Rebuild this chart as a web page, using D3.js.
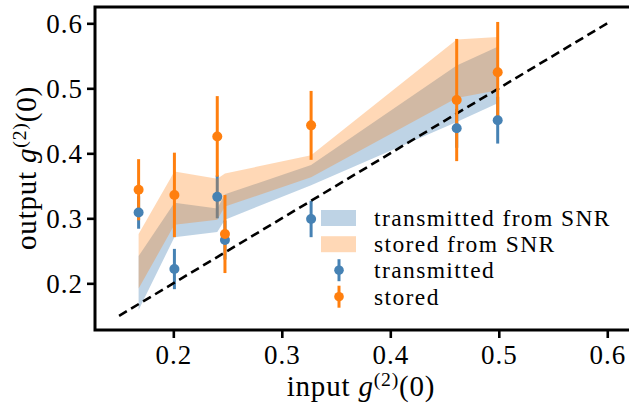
<!DOCTYPE html>
<html>
<head>
<meta charset="utf-8">
<script src="https://cdn.jsdelivr.net/npm/d3@7/dist/d3.min.js"></script>
<style>
  html, body { margin: 0; padding: 0; background: #fff; }
  svg { display: block; }
  text { font-family: "Liberation Serif", "DejaVu Serif", serif; fill: #000; }
</style>
</head>
<body>
<svg id="chart" width="629" height="409"></svg>
<script>
// ---- data ----
const inputG2 = [0.168, 0.201, 0.2405, 0.2476, 0.327, 0.4612, 0.499];
const transmitted = [0.309, 0.222, 0.333, 0.2666, 0.299, 0.4385, 0.451];
const transmittedErr = [0.025, 0.031, 0.033, 0.030, 0.028, 0.030, 0.036];
const stored = [0.344, 0.336, 0.426, 0.2758, 0.443, 0.482, 0.5246];
const storedErr = [0.047, 0.065, 0.062, 0.060, 0.053, 0.094, 0.0775];
const transBandLo = [0.159, 0.271, 0.279, 0.298, 0.351, 0.448, 0.477];
const transBandHi = [0.242, 0.324, 0.315, 0.337, 0.382, 0.535, 0.564];
const storedBandLo = [0.192, 0.290, 0.298, 0.318, 0.363, 0.485, 0.497];
const storedBandHi = [0.276, 0.372, 0.361, 0.369, 0.397, 0.575, 0.579];
const diagonal = [0.15, 0.6];
const xTicks = [0.2, 0.3, 0.4, 0.5, 0.6];
const yTicks = [0.2, 0.3, 0.4, 0.5, 0.6];
const legendLabels = ["transmitted from SNR", "stored from SNR", "transmitted", "stored"];

// ---- style ----
const BLUE = "#4682b4", ORANGE = "#ff7f0e";
const svg = d3.select("#chart");
const L = 95, R = 632, T = 7, B = 330;
const x = d3.scaleLinear().domain([0.1278, 0.6228]).range([L, R]);
const y = d3.scaleLinear().domain([0.1282, 0.6251]).range([B, T]);

const idx = d3.range(inputG2.length);

// transmitted error bars (under bands)
svg.append("g").selectAll("line").data(idx).join("line")
  .attr("x1", i => x(inputG2[i])).attr("x2", i => x(inputG2[i]))
  .attr("y1", i => y(transmitted[i] - transmittedErr[i]))
  .attr("y2", i => y(transmitted[i] + transmittedErr[i]))
  .attr("stroke", BLUE).attr("stroke-width", 3);

// bands
const areaT = d3.area().x(i => x(inputG2[i])).y0(i => y(transBandLo[i])).y1(i => y(transBandHi[i]));
const areaS = d3.area().x(i => x(inputG2[i])).y0(i => y(storedBandLo[i])).y1(i => y(storedBandHi[i]));
svg.append("path").attr("d", areaT(idx)).attr("fill", BLUE).attr("fill-opacity", 0.35);
svg.append("path").attr("d", areaS(idx)).attr("fill", ORANGE).attr("fill-opacity", 0.3);

// diagonal
svg.append("line")
  .attr("x1", x(diagonal[0])).attr("y1", y(diagonal[0]))
  .attr("x2", x(diagonal[1])).attr("y2", y(diagonal[1]))
  .attr("stroke", "#000").attr("stroke-width", 2.6).attr("stroke-dasharray", "9,5");

// stored error bars
svg.append("g").selectAll("line").data(idx).join("line")
  .attr("x1", i => x(inputG2[i])).attr("x2", i => x(inputG2[i]))
  .attr("y1", i => y(stored[i] - storedErr[i]))
  .attr("y2", i => y(stored[i] + storedErr[i]))
  .attr("stroke", ORANGE).attr("stroke-width", 3);

// markers
svg.append("g").selectAll("circle").data(idx).join("circle")
  .attr("cx", i => x(inputG2[i])).attr("cy", i => y(transmitted[i])).attr("r", 5).attr("fill", BLUE);
svg.append("g").selectAll("circle").data(idx).join("circle")
  .attr("cx", i => x(inputG2[i])).attr("cy", i => y(stored[i])).attr("r", 5).attr("fill", ORANGE);

// axes
const xAxis = svg.append("g").attr("transform", `translate(0,${B})`)
  .call(d3.axisBottom(x).tickValues(xTicks).tickSize(8).tickFormat(d3.format(".1f")));
const yAxis = svg.append("g").attr("transform", `translate(${L},0)`)
  .call(d3.axisLeft(y).tickValues(yTicks).tickSize(8).tickFormat(d3.format(".1f")));
[xAxis, yAxis].forEach(a => {
  a.select(".domain").remove();
  a.selectAll(".tick line").attr("stroke", "#000").attr("stroke-width", 2.6);
  a.selectAll("text").style("font-family", '"Liberation Serif", serif')
    .attr("font-size", 27).attr("letter-spacing", 1).attr("fill", "#000");
});
xAxis.selectAll("text").attr("y", 34).attr("dy", null);
yAxis.selectAll("text").attr("x", -12).attr("dy", "0.34em");

// spines
svg.append("rect").attr("x", L).attr("y", T).attr("width", R - L).attr("height", B - T)
  .attr("fill", "none").attr("stroke", "#000").attr("stroke-width", 3);

// axis labels
function mathLabel(sel, word) {
  sel.append("tspan").text(word + " ");
  sel.append("tspan").attr("font-style", "italic").text("g");
  sel.append("tspan").attr("font-size", "0.68em").attr("dy", -10).text("(2)");
  sel.append("tspan").attr("dy", 10).text("(0)");
}
const xl = svg.append("text").attr("x", 361).attr("y", 396).attr("text-anchor", "middle")
  .attr("font-size", 29).attr("letter-spacing", 0.8);
mathLabel(xl, "input");
const yl = svg.append("text").attr("transform", "translate(36,168) rotate(-90)").attr("text-anchor", "middle")
  .attr("font-size", 29).attr("letter-spacing", 0.8);
mathLabel(yl, "output");

// legend
const rowY = [218, 244.2, 270.2, 296.7];
const lg = svg.append("g");
lg.append("rect").attr("x", 321).attr("y", rowY[0] - 8).attr("width", 35).attr("height", 16).attr("fill", BLUE).attr("fill-opacity", 0.35);
lg.append("rect").attr("x", 321).attr("y", rowY[1] - 8).attr("width", 35).attr("height", 16).attr("fill", ORANGE).attr("fill-opacity", 0.3);
[[rowY[2], BLUE], [rowY[3], ORANGE]].forEach(([cy, c]) => {
  lg.append("line").attr("x1", 339).attr("x2", 339).attr("y1", cy - 11).attr("y2", cy + 11).attr("stroke", c).attr("stroke-width", 3);
  lg.append("circle").attr("cx", 339).attr("cy", cy).attr("r", 4.8).attr("fill", c);
});
lg.selectAll("text.lab").data(legendLabels).join("text").attr("class", "lab")
  .attr("x", 374).attr("y", (d, i) => rowY[i] + 8).attr("font-size", 23.5)
  .attr("letter-spacing", 1.4).text(d => d);
</script>
</body>
</html>
